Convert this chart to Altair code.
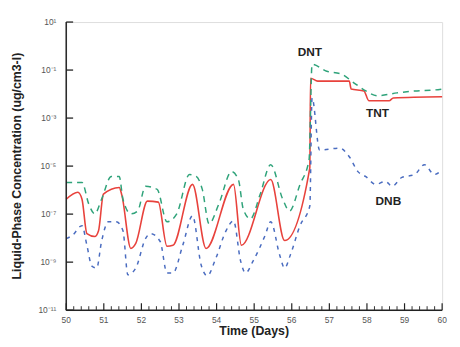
import altair as alt
import pandas as pd

# ---- data (log10 of concentration) ----
tnt_day = [50.0, 50.31, 50.42, 50.55, 50.76, 50.86, 50.99, 51.41, 51.48, 51.72, 51.85,
           52.16, 52.45, 52.68, 52.84, 53.36, 53.72, 54.45, 54.66, 55.44, 55.81, 56.48,
           56.50, 56.69, 57.53, 57.58, 57.92, 58.05, 58.59, 58.70, 60.0]
tnt_log = [-6.38, -6.09, -6.38, -7.81, -7.93, -7.69, -6.17, -5.89, -6.21, -8.43, -8.22,
           -6.46, -6.50, -8.34, -8.30, -5.76, -8.43, -5.76, -8.30, -5.56, -8.10, -5.07,
           -1.34, -1.46, -1.46, -1.79, -1.87, -2.28, -2.28, -2.16, -2.11]

dnt_day = [50.0, 50.42, 50.60, 50.76, 50.94, 51.2, 51.41, 51.51, 51.72, 51.9, 52.11,
           52.42, 52.68, 52.94, 53.28, 53.46, 53.62, 53.80, 54.06, 54.40, 54.58, 54.71,
           54.90, 55.16, 55.44, 55.76, 55.94, 56.22, 56.46, 56.54, 56.93, 57.32, 57.66,
           57.97, 58.28, 58.80, 59.27, 59.79, 60.0]
dnt_log = [-5.68, -5.68, -6.58, -6.99, -6.38, -5.43, -5.43, -6.38, -6.99, -6.87, -5.84,
           -5.97, -7.32, -6.99, -5.35, -5.43, -5.97, -7.40, -6.58, -5.23, -5.56, -6.79,
           -7.20, -6.17, -4.94, -6.38, -6.87, -5.76, -4.74, -0.76, -1.05, -1.17, -1.54,
           -1.87, -2.07, -1.95, -1.87, -1.83, -1.79]

dnb_day = [50.0, 50.16, 50.42, 50.55, 50.68, 50.81, 50.94, 51.12, 51.33, 51.51, 51.64,
           51.85, 52.11, 52.24, 52.50, 52.68, 52.84, 53.10, 53.36, 53.59, 53.75, 53.98,
           54.24, 54.45, 54.64, 54.77, 54.97, 55.29, 55.44, 55.68, 55.81, 55.96, 56.22,
           56.48, 56.54, 56.74, 57.27, 57.53, 57.76, 57.97, 58.23, 58.49, 58.67, 58.93,
           59.27, 59.53, 59.79, 60.0]
dnb_log = [-8.02, -7.89, -7.48, -8.30, -9.16, -9.25, -8.14, -7.32, -7.32, -7.69, -9.53,
           -9.25, -8.02, -7.81, -8.14, -9.45, -9.45, -8.30, -7.07, -9.12, -9.57, -8.84,
           -7.73, -7.28, -8.96, -9.45, -8.96, -7.89, -7.32, -8.71, -9.25, -8.71, -7.48,
           -6.66, -2.16, -4.33, -4.25, -4.61, -5.23, -5.44, -5.76, -5.64, -5.84, -5.47,
           -5.35, -4.94, -5.35, -5.15]

label_text = ["DNT", "TNT", "DNB"]
label_day = [56.48, 58.28, 58.57]
label_log = [-0.23, -2.81, -6.46]

y_tick_log = [1, -1, -3, -5, -7, -9, -11]
y_tick_text = ["10\u00b9", "10\u207b\u00b9", "10\u207b\u00b3", "10\u207b\u2075",
               "10\u207b\u2077", "10\u207b\u2079", "10\u207b\u00b9\u00b9"]
x_major = list(range(50, 61))
x_major_text = [str(v) for v in x_major]
x_minor = [round(50 + i * 0.2, 2) for i in range(51) if i % 5 != 0]
x_title = "Time (Days)"
y_title = "Liquid-Phase Concentration (ug/cm3-l)"

W, H = 381, 292
FONT = "Liberation Sans"
INK = "#222"

xscale = alt.Scale(domain=[50, 60], nice=False, zero=False)
yscale = alt.Scale(type="log", domain=[1e-11, 10], nice=False)


def X(field="day"):
    return alt.X(f"{field}:Q", scale=xscale, axis=None)


def Y(field="conc"):
    return alt.Y(f"{field}:Q", scale=yscale, axis=None)


def line(days, logs, color, dash=None, width=1.5):
    kw = dict(color=color, strokeWidth=width, interpolate="monotone")
    if dash:
        kw["strokeDash"] = dash
    df = pd.DataFrame({"day": days, "logc": logs})
    return (alt.Chart(df).transform_calculate(conc="pow(10, datum.logc)")
            .mark_line(**kw).encode(x=X(), y=Y()))


tnt = line(tnt_day, tnt_log, "#e8423c", width=1.6)
dnt = line(dnt_day, dnt_log, "#2fa37a", dash=[6, 5])
dnb = line(dnb_day, dnb_log, "#4a6cc0", dash=[4, 5])

# axis lines
y_domain = alt.Chart(pd.DataFrame({"k": [0]})).mark_rule(color=INK, strokeWidth=1.5).encode(
    x=alt.value(0), y=alt.value(0), y2=alt.value(H))
x_domain = alt.Chart(pd.DataFrame({"k": [0]})).mark_rule(color=INK, strokeWidth=1.5).encode(
    x=alt.value(0), x2=alt.value(W), y=alt.value(H))

# inward tick marks, placed through the scales
ytick = alt.Chart(pd.DataFrame({"logc": y_tick_log})).transform_calculate(
    conc="pow(10, datum.logc)").mark_rule(color=INK, strokeWidth=1.3).encode(
    y=Y(), x=alt.value(0), x2=alt.value(7))
xmaj = alt.Chart(pd.DataFrame({"day": x_major})).mark_rule(color=INK, strokeWidth=1.2).encode(
    x=X(), y=alt.value(H), y2=alt.value(H - 7))
xmin = alt.Chart(pd.DataFrame({"day": x_minor})).mark_rule(color="#333", strokeWidth=1).encode(
    x=X(), y=alt.value(H), y2=alt.value(H - 4))

# tick labels
ylab = alt.Chart(pd.DataFrame({"logc": y_tick_log, "t": y_tick_text})).transform_calculate(
    conc="pow(10, datum.logc)").mark_text(
    font=FONT, fontSize=8.5, color="#555", align="right", baseline="middle").encode(
    y=Y(), x=alt.value(-10), text="t:N")
xlab = alt.Chart(pd.DataFrame({"day": x_major, "t": x_major_text})).mark_text(
    font=FONT, fontSize=8.5, color="#555", align="center", baseline="middle").encode(
    x=X(), y=alt.value(H + 10), text="t:N")

# axis titles
xtitle = alt.Chart(pd.DataFrame({"t": [x_title]})).mark_text(
    font=FONT, fontSize=12.5, fontWeight="bold", color=INK, align="center", baseline="middle").encode(
    x=alt.value(W / 2), y=alt.value(H + 21), text="t:N")
ytitle = alt.Chart(pd.DataFrame({"t": [y_title]})).mark_text(
    font=FONT, fontSize=12.5, fontWeight="bold", color=INK, align="center", baseline="middle",
    angle=270).encode(
    x=alt.value(-50), y=alt.value(H / 2), text="t:N")

labels = alt.Chart(pd.DataFrame({"t": label_text, "day": label_day, "logc": label_log})).transform_calculate(
    conc="pow(10, datum.logc)").mark_text(font=FONT, fontSize=12, fontWeight="bold", color=INK).encode(
    x=X(), y=Y(), text="t:N")

chart = alt.layer(tnt, dnt, dnb, y_domain, x_domain, ytick, xmaj, xmin,
                  ylab, xlab, xtitle, ytitle, labels).properties(
    width=W, height=H,
    autosize=alt.AutoSizeParams(type="none"),
    padding={"left": 59, "top": 12, "right": 10, "bottom": 27},
).configure_view(stroke=None).configure(background="white")

chart.save("out.html", embed_options={"renderer": "svg", "actions": False})
